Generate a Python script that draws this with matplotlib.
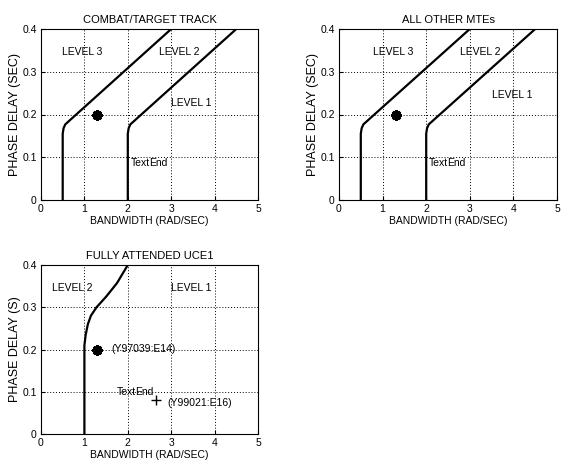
import matplotlib.pyplot as plt

plt.rcParams['font.family'] = ['Liberation Sans', 'DejaVu Sans']
plt.rcParams['font.size'] = 7.5

# boundary curves (bandwidth, phase delay)
bnd32_x = [0.5, 0.5, 0.52, 0.56, 3.0]
bnd32_y = [0.0, 0.155, 0.168, 0.177, 0.4]
bnd21_x = [2.0, 2.0, 2.02, 2.06, 4.5]
bnd21_y = [0.0, 0.155, 0.168, 0.177, 0.4]
uce_x = [1.0, 1.0, 1.03, 1.08, 1.15, 1.28, 1.5, 1.75, 2.0]
uce_y = [0.0, 0.21, 0.235, 0.26, 0.28, 0.30, 0.325, 0.357, 0.4]

# test points
pt_star = (1.3, 0.2)
pt_plus = (2.64, 0.081)

xticks = [0, 1, 2, 3, 4, 5]
yticks = [0, 0.1, 0.2, 0.3, 0.4]
yticklabels = ['0', '0.1', '0.2', '0.3', '0.4']


def style_axes(ax, title, ylabel):
    ax.set_xlim(0, 5)
    ax.set_ylim(0, 0.4)
    ax.set_xticks(xticks)
    ax.set_yticks(yticks)
    ax.set_yticklabels(yticklabels)
    ax.grid(True, color='black', linestyle=(0, (1, 2)), linewidth=0.7)
    ax.tick_params(direction='in', length=3, width=0.8, pad=3)
    for s in ax.spines.values():
        s.set_linewidth(0.8)
    ax.set_title(title, fontsize=8, pad=4)
    ax.set_xlabel('BANDWIDTH (RAD/SEC)', labelpad=1)
    ax.set_ylabel(ylabel, fontsize=9, labelpad=1)


def star(ax, x, y):
    ax.plot(x, y, marker=(8, 2, 0), markersize=7.5, markeredgewidth=2.0,
            color='black', linestyle='none')
    ax.plot(x, y, marker='o', markersize=3, color='black', linestyle='none')


def text_end(ax, x, y):
    # "Text" and "End" drawn overlapping, as in the original
    ax.text(x, y, 'Text', va='center')
    ax.text(x + 0.44, y, 'End', va='center')


fig = plt.figure(figsize=(5.61, 4.66), dpi=100)
W, H = 561, 466

ax1 = fig.add_axes([41 / W, 1 - 200 / H, 217 / W, 171 / H])
ax2 = fig.add_axes([339 / W, 1 - 200 / H, 218 / W, 171 / H])
ax3 = fig.add_axes([41 / W, 1 - 434 / H, 217 / W, 169 / H])

# top panels
for ax, title, lv3x, lv2x, lv1x, lv1y, txtx in [
        (ax1, 'COMBAT/TARGET TRACK', 0.48, 2.72, 3.0, 0.228, 2.06),
        (ax2, 'ALL OTHER MTEs', 0.79, 2.77, 3.5, 0.246, 2.05)]:
    ax.plot(bnd32_x, bnd32_y, color='black', linewidth=1.6)
    ax.plot(bnd21_x, bnd21_y, color='black', linewidth=1.6)
    star(ax, *pt_star)
    ax.text(lv3x, 0.347, 'LEVEL 3', va='center')
    ax.text(lv2x, 0.347, 'LEVEL 2', va='center')
    ax.text(lv1x, lv1y, 'LEVEL 1', va='center')
    text_end(ax, txtx, 0.086)
    style_axes(ax, title, 'PHASE DELAY (SEC)')

# bottom panel
ax3.plot(uce_x, uce_y, color='black', linewidth=1.6)
star(ax3, *pt_star)
ax3.plot(*pt_plus, marker='+', markersize=7, markeredgewidth=1.0,
         color='black', linestyle='none')
ax3.text(1.62, 0.2, '(Y97039:E14)', va='center')
ax3.text(2.92, 0.073, '(Y99021:E16)', va='center')
text_end(ax3, 1.74, 0.099)
ax3.text(0.25, 0.345, 'LEVEL 2', va='center')
ax3.text(3.0, 0.345, 'LEVEL 1', va='center')
style_axes(ax3, 'FULLY ATTENDED UCE1', 'PHASE DELAY (S)')

fig.savefig('out.png', dpi=100)
